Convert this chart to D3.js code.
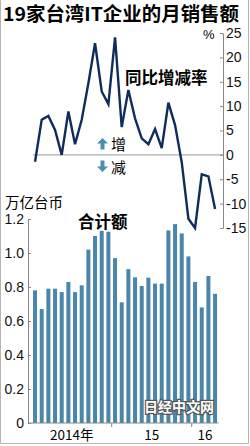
<!DOCTYPE html>
<html>
<head>
<meta charset="utf-8">
<script src="https://cdn.jsdelivr.net/npm/d3@7"></script>
<style>
  body { margin: 0; background: #fff; }
  svg { display: block; }
  .axis path, .axis line { stroke: #888; }
  .axis text { font-family: "Liberation Sans Narrow", "Arial Narrow", "Liberation Sans", sans-serif; font-size: 14px; fill: #111; }
</style>
</head>
<body>
<svg width="250" height="446"></svg>
<script>
// monthly, Jan 2014 .. Apr 2016
const months = d3.range(28);
const yoyChange = [-1.4, 7.2, 8.0, 5.1, 0.0, 8.9, 2.2, 7.2, 14.7, 22.9, 13.0, 10.4, 24.1, 5.7,
                   13.3, 7.5, 3.4, 2.2, 5.3, 1.4, 10.7, 6.1, -1.5, -13.1, -15.0, -4.0, -4.4, -11.1];
const totalSales = [0.78, 0.67, 0.79, 0.79, 0.77, 0.83, 0.77, 0.81, 1.02, 1.10, 1.13, 1.125, 0.97, 0.71,
                    0.905, 0.857, 0.806, 0.855, 0.82, 0.82, 1.133, 1.17, 1.115, 0.98, 0.83, 0.68, 0.865, 0.76];
const yoyTicks = [25, 20, 15, 10, 5, 0, -5, -10, -15];
const salesTicks = [0, 0.2, 0.4, 0.6, 0.8, 1.0, 1.2];
const yearLabels = [{ label: "2014年", from: 0, to: 12 }, { label: "15", from: 12, to: 24 }, { label: "16", from: 24, to: 28 }];

const svg = d3.select("svg");
const cjk = '"Noto Sans CJK SC", "Noto Sans", sans-serif';

// frame
svg.append("path")
   .attr("d", "M0.5,0 V443.5 H248.5 V0")
   .attr("fill", "none")
   .attr("stroke", "#b5b5b5");

// title
svg.append("text")
   .attr("x", 3).attr("y", 21)
   .attr("textLength", 236).attr("lengthAdjust", "spacingAndGlyphs")
   .style("font-family", cjk).style("font-weight", "bold").style("font-size", "19px")
   .text("19家台湾IT企业的月销售额");

const x = d3.scaleBand().domain(months).range([31.7, 218.4]).paddingInner(0.4).paddingOuter(0.2);
const cx = i => x(i) + x.bandwidth() / 2;

// ---- top: year-on-year change ----
const yTop = d3.scaleLinear().domain([-15, 25]).range([228, 33]);

svg.append("line")
   .attr("x1", 33).attr("x2", 223)
   .attr("y1", yTop(0)).attr("y2", yTop(0))
   .attr("stroke", "#999");

svg.append("g")
   .attr("class", "axis")
   .attr("transform", "translate(223,0)")
   .call(d3.axisRight(yTop).tickValues(yoyTicks).tickSizeInner(-3).tickSizeOuter(0).tickPadding(3)
           .tickFormat(d => String(d)));

svg.append("text")
   .attr("x", 203).attr("y", 39)
   .style("font-family", "Liberation Sans, sans-serif").style("font-size", "13px")
   .text("%");

const line = d3.line()
   .x((d, i) => cx(i))
   .y(d => yTop(d));

svg.append("path")
   .datum(yoyChange)
   .attr("d", line)
   .attr("fill", "none")
   .attr("stroke", "#102c5c")
   .attr("stroke-width", 2.4)
   .attr("stroke-linejoin", "miter");

svg.append("text")
   .attr("x", 125).attr("y", 84)
   .style("font-family", cjk).style("font-weight", "bold").style("font-size", "16.5px")
   .text("同比增减率");

// up / down arrows
const arrowCol = "#4b8db3";
svg.append("path")
   .attr("d", "M102.5,138 L108,143.5 L104.5,143.5 L104.5,149.5 L100.5,149.5 L100.5,143.5 L97,143.5 Z")
   .attr("fill", arrowCol);
svg.append("path")
   .attr("d", "M102.5,172 L108,166.5 L104.5,166.5 L104.5,160.5 L100.5,160.5 L100.5,166.5 L97,166.5 Z")
   .attr("fill", arrowCol);
svg.append("text")
   .attr("x", 111).attr("y", 149.5)
   .style("font-family", cjk).style("font-size", "15px")
   .text("增");
svg.append("text")
   .attr("x", 111).attr("y", 172.5)
   .style("font-family", cjk).style("font-size", "15px")
   .text("减");

// ---- bottom: total sales ----
const yBot = d3.scaleLinear().domain([0, 1.2]).range([423, 219]);

svg.append("text")
   .attr("x", 5).attr("y", 208)
   .style("font-family", cjk).style("font-size", "14.5px")
   .text("万亿台币");

svg.append("text")
   .attr("x", 78).attr("y", 228)
   .style("font-family", cjk).style("font-weight", "bold").style("font-size", "16.5px")
   .text("合计额");

svg.append("g")
   .selectAll("rect")
   .data(totalSales)
   .join("rect")
   .attr("x", (d, i) => x(i))
   .attr("width", x.bandwidth())
   .attr("y", d => yBot(d))
   .attr("height", d => yBot(0) - yBot(d))
   .attr("fill", "#4a86aa");

svg.append("g")
   .attr("class", "axis")
   .attr("transform", "translate(28,0)")
   .call(d3.axisLeft(yBot).tickValues(salesTicks).tickSizeInner(-3).tickSizeOuter(0).tickPadding(4)
           .tickFormat(d => d === 0 ? "0" : d3.format(".1f")(d)));

// x axis with year separators
svg.append("line")
   .attr("x1", 28).attr("x2", 218.4)
   .attr("y1", yBot(0)).attr("y2", yBot(0))
   .attr("stroke", "#888");

svg.append("g")
   .selectAll("line")
   .data([12, 24])
   .join("line")
   .attr("x1", d => x(d) - x.step() * 0.2).attr("x2", d => x(d) - x.step() * 0.2)
   .attr("y1", yBot(0)).attr("y2", yBot(0) + 4)
   .attr("stroke", "#888");

svg.append("g")
   .selectAll("text")
   .data(yearLabels)
   .join("text")
   .attr("x", d => (x(d.from) + x(d.to - 1) + x.bandwidth()) / 2)
   .attr("y", 440)
   .attr("text-anchor", "middle")
   .style("font-family", '"Liberation Sans Narrow", "Noto Sans CJK SC", sans-serif')
   .style("font-size", "13.5px")
   .text(d => d.label);

// watermark
svg.append("text")
   .attr("x", 179).attr("y", 412)
   .attr("text-anchor", "middle")
   .style("font-family", cjk).style("font-weight", "bold").style("font-size", "14px")
   .attr("fill", "#fff").attr("stroke", "#555").attr("stroke-width", 2.5)
   .attr("paint-order", "stroke")
   .text("日经中文网");
</script>
</body>
</html>
